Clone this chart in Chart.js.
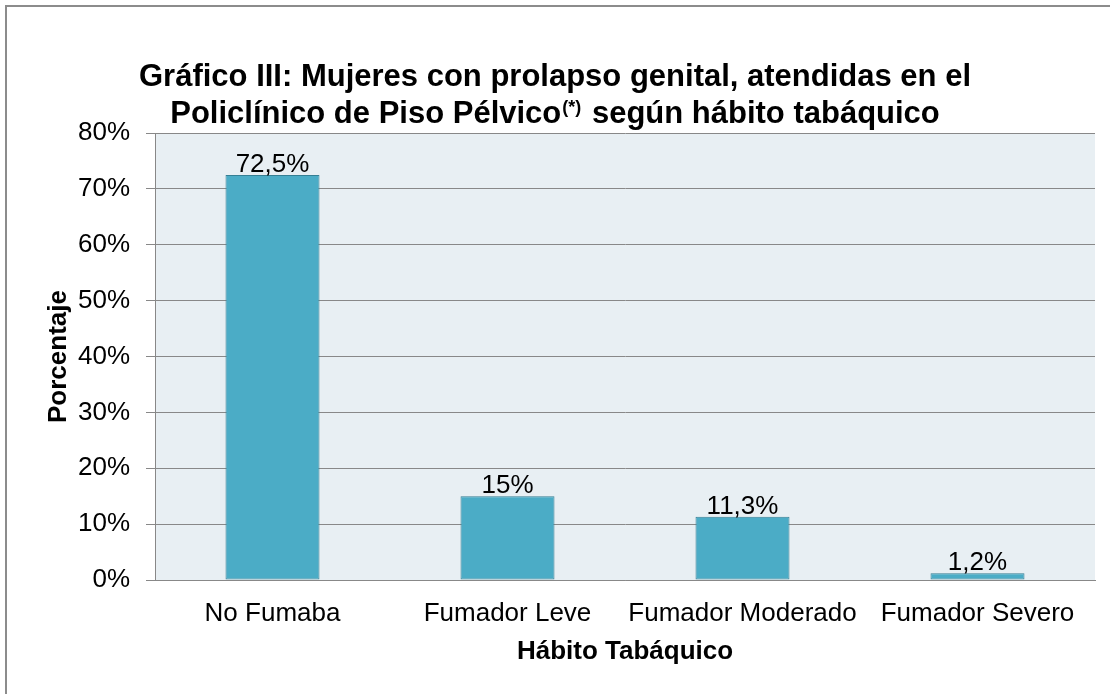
<!DOCTYPE html>
<html>
<head>
<meta charset="utf-8">
<script src="https://cdn.jsdelivr.net/npm/chart.js@4/dist/chart.umd.min.js"></script>
<style>
  html, body { margin:0; padding:0; background:#fff; }
  #wrap { position:relative; width:1110px; height:694px; overflow:hidden; }
  #frame { position:absolute; left:5px; top:5px; width:2000px; height:2000px;
           border-top:2px solid #8c8c8c; border-left:2px solid #8c8c8c; }
  #title { position:absolute; left:0; top:57px; width:1110px; text-align:center;
           font:bold 31px "Liberation Sans", Arial, sans-serif; line-height:37px; color:#000; }
  #title sup { font-size:18px; vertical-align:10px; line-height:0; padding:0 2px 0 1px; }
  canvas { position:absolute; left:0; top:0; }
</style>
</head>
<body>
<div id="wrap">
  <div id="frame"></div>
  <canvas id="chart" width="1110" height="694"></canvas>
  <div id="title">Gráfico III: Mujeres con prolapso genital, atendidas en el<br>Policlínico de Piso Pélvico<sup>(*)</sup> según hábito tabáquico</div>
</div>
<script>
(function(){
  const categories = ['No Fumaba', 'Fumador Leve', 'Fumador Moderado', 'Fumador Severo'];
  const values = [72.5, 15, 11.3, 1.2];
  const valueLabels = ['72,5%', '15%', '11,3%', '1,2%'];
  const yMax = 80, yStep = 10;

  const FONT = '"Liberation Sans", Arial, sans-serif';

  // plot background
  const plotBg = {
    id:'plotBg',
    beforeDraw(chart){
      const a = chart.chartArea, ctx = chart.ctx;
      ctx.save(); ctx.fillStyle = '#e8eff3';
      ctx.fillRect(a.left, a.top, a.right - a.left, a.bottom - a.top);
      ctx.restore();
    }
  };

  // value labels above bars
  const barLabels = {
    id:'barLabels',
    afterDatasetsDraw(chart){
      const ctx = chart.ctx;
      const meta = chart.getDatasetMeta(0);
      ctx.save();
      ctx.font = '26px ' + FONT;
      ctx.fillStyle = '#000';
      ctx.textAlign = 'center';
      ctx.textBaseline = 'alphabetic';
      meta.data.forEach((bar, i) => ctx.fillText(valueLabels[i], bar.x, bar.y - 3));
      ctx.restore();
    }
  };

  new Chart(document.getElementById('chart'), {
    type:'bar',
    data:{
      labels: categories,
      datasets:[{
        data: values,
        backgroundColor:'#4bacc6',
        borderColor:'#357f94',
        borderWidth:1,
        borderSkipped:false,
        barPercentage:0.4,
        categoryPercentage:1
      }]
    },
    options:{
      responsive:false,
      animation:false,
      devicePixelRatio:1,
      layout:{ padding:{ top:133, right:15, bottom:0, left:0 } },
      plugins:{ legend:{display:false}, tooltip:{enabled:false}, title:{display:false} },
      scales:{
        x:{
          afterFit(s){ s.height = 114; },
          grid:{ display:false, drawTicks:false },
          border:{ display:true, color:'#888', width:1 },
          ticks:{ color:'#000', font:{ family:FONT, size:26 }, padding:18, maxRotation:0, autoSkip:false },
          title:{ display:true, text:'Hábito Tabáquico', color:'#000',
                  font:{ family:FONT, size:26, weight:'bold' }, padding:{ top:27, bottom:27 } }
        },
        y:{
          min:0, max:yMax,
          afterFit(s){ s.width = 155; },
          grid:{ color:'#888', lineWidth:1, tickLength:9, drawTicks:true },
          border:{ display:true, color:'#888', width:1 },
          ticks:{ stepSize:yStep, color:'#000', font:{ family:FONT, size:26 }, padding:16,
                  callback:v => v + '%' },
          title:{ display:true, text:'Porcentaje', color:'#000',
                  font:{ family:FONT, size:26, weight:'bold' }, padding:{ top:43, bottom:43 } }
        }
      }
    },
    plugins:[plotBg, barLabels]
  });
})();
</script>
</body>
</html>
